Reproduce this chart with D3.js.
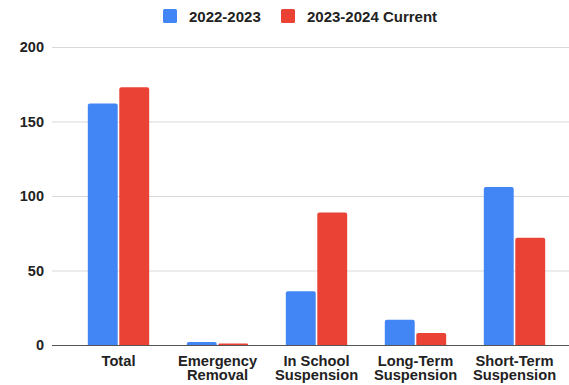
<!DOCTYPE html>
<html><head><meta charset="utf-8">
<script src="https://cdn.jsdelivr.net/npm/d3@7"></script>
<style>body{margin:0;background:#fff}svg{display:block}text{font-family:"Liberation Sans",Arial,sans-serif;fill:#222}</style>
</head><body><svg id="c" width="569" height="385"></svg>
<script>
const categories = [["Total"],["Emergency","Removal"],["In School","Suspension"],["Long-Term","Suspension"],["Short-Term","Suspension"]];
const seriesNames = ["2022-2023","2023-2024 Current"];
const values2223 = [162, 2, 36, 17, 106];
const values2324 = [173, 1, 89, 8, 72];
const yTicks = [0,50,100,150,200];
const colors = ["#4285F4","#EA4335"];

const svg = d3.select("#c");
const W=569, H=385;
const y = d3.scaleLinear().domain([0,200]).range([345,47]);
const x0 = d3.scaleBand().domain(d3.range(categories.length)).range([69,564]).paddingInner(0.38).paddingOuter(0.19);
const x1 = d3.scaleBand().domain([0,1]).range([0,x0.bandwidth()]).paddingInner(0.05);

// grid
svg.append("g").selectAll("line").data(yTicks.filter(d=>d>0)).join("line")
 .attr("x1",52).attr("x2",W).attr("y1",d=>y(d)+0.5).attr("y2",d=>y(d)+0.5)
 .attr("stroke","#d9d9d9").attr("stroke-width",1);

// y axis labels
const yAxis = d3.axisLeft(y).tickValues(yTicks).tickSize(0).tickPadding(0);
const ga = svg.append("g").attr("transform","translate(44,0)").call(yAxis);
ga.select(".domain").remove();
ga.selectAll("text").attr("font-size",14.5).attr("font-weight","bold").attr("fill","#222").attr("font-family","Liberation Sans, Arial, sans-serif");

function topRounded(x,yT,w,h,r){
  r=Math.min(r,h,w/2);
  return `M${x},${yT+h}V${yT+r}Q${x},${yT} ${x+r},${yT}H${x+w-r}Q${x+w},${yT} ${x+w},${yT+r}V${yT+h}Z`;
}
const rows = categories.map((c,i)=>[values2223[i],values2324[i]]);
const g = svg.append("g");
rows.forEach((r,i)=>{
  r.forEach((v,s)=>{
    const bx = x0(i)+x1(s), w=x1.bandwidth();
    g.append("path").attr("d",topRounded(bx,y(v),w,y(0)-y(v),2)).attr("fill",colors[s]);
  });
});

// baseline
svg.append("line").attr("x1",52).attr("x2",W).attr("y1",y(0)+0.5).attr("y2",y(0)+0.5).attr("stroke","#555").attr("stroke-width",1.2);

// x labels
categories.forEach((lines,i)=>{
  const t = svg.append("text").attr("x",x0(i)+x0.bandwidth()/2).attr("y",365.5)
   .attr("text-anchor","middle").attr("font-size",14.7).attr("font-weight","bold");
  lines.forEach((l,j)=>t.append("tspan").attr("x",x0(i)+x0.bandwidth()/2).attr("dy",j?14.5:0).text(l));
});

// legend
const legX=[163,281];
seriesNames.forEach((n,i)=>{
  svg.append("rect").attr("x",legX[i]).attr("y",9).attr("width",14).attr("height",14).attr("rx",1.5).attr("fill",colors[i]);
  svg.append("text").attr("x",legX[i]+26).attr("y",21.5).attr("font-size",15).attr("font-weight","bold").text(n);
});
</script></body></html>
